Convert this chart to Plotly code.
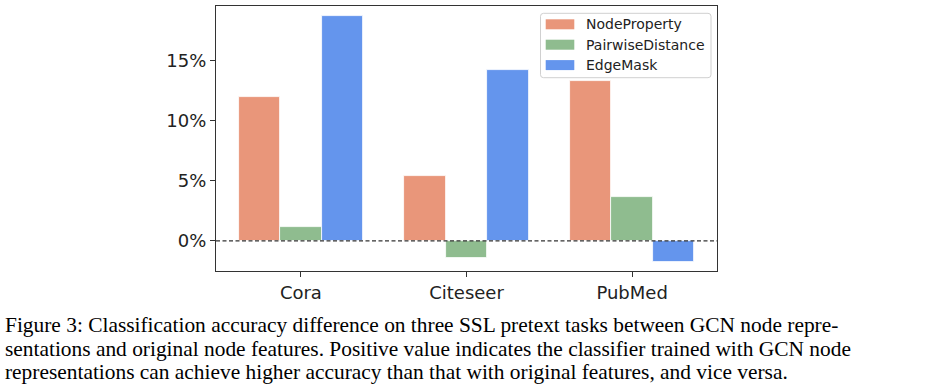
import plotly.graph_objects as go

categories = ["Cora", "Citeseer", "PubMed"]
series_names = ["NodeProperty", "PairwiseDistance", "EdgeMask"]
node_property = [12.0, 5.45, 13.3]
pairwise_distance = [1.2, -1.38, 3.7]
edge_mask = [18.7, 14.2, -1.72]
y_tick_vals = [0, 5, 10, 15]
y_tick_text = ["0%", "5%", "10%", "15%"]
caption_lines = [
    "Figure 3: Classification accuracy difference on three SSL pretext tasks between GCN node repre-",
    "sentations and original node features. Positive value indicates the classifier trained with GCN node",
    "representations can achieve higher accuracy than that with original features, and vice versa.",
]

colors = ["#E9967A", "#8FBC8F", "#6495ED"]
values = [node_property, pairwise_distance, edge_mask]

W, H = 928, 389
L, R, T, B = 216, 211, 6, 118
pw, ph = W - L - R, H - T - B

def px_x(px):
    return (px - L) / pw

def px_y(py):
    return 1 - (py - T) / ph

fig = go.Figure()
offsets = [-0.25, 0.0, 0.25]
for name, vals, col, off in zip(series_names, values, colors, offsets):
    fig.add_trace(go.Bar(
        x=[i + off for i in range(len(categories))],
        y=vals,
        width=0.25,
        name=name,
        marker=dict(color=col, line=dict(color="white", width=0.8)),
        showlegend=False,
        hoverinfo="skip",
    ))

# zero dashed line
fig.add_shape(type="line", xref="paper", yref="y", x0=0, x1=1, y0=0, y1=0,
              line=dict(color="#333333", width=1.3, dash="4px,2.5px"))

# manual legend (rounded box)
lx0, lx1, ly0, ly1 = px_x(540.5), px_x(711), px_y(77.7), px_y(13.3)
rx, ry = 3 / pw, 3 / ph
legend_path = (
    f"M {lx0 + rx},{ly0} L {lx1 - rx},{ly0} Q {lx1},{ly0} {lx1},{ly0 + ry} "
    f"L {lx1},{ly1 - ry} Q {lx1},{ly1} {lx1 - rx},{ly1} "
    f"L {lx0 + rx},{ly1} Q {lx0},{ly1} {lx0},{ly1 - ry} "
    f"L {lx0},{ly0 + ry} Q {lx0},{ly0} {lx0 + rx},{ly0} Z"
)
fig.add_shape(type="path", xref="paper", yref="paper", path=legend_path,
              line=dict(color="#d0d0d0", width=1), fillcolor="rgba(255,255,255,0.8)")
for i, (name, col) in enumerate(zip(series_names, colors)):
    cy = 24.3 + i * 20.4
    fig.add_shape(type="rect", xref="paper", yref="paper",
                  x0=px_x(545.7), x1=px_x(574.3), y0=px_y(cy + 5), y1=px_y(cy - 5),
                  line=dict(width=0), fillcolor=col)
    fig.add_annotation(xref="paper", yref="paper", x=px_x(584), y=px_y(cy),
                       text=name, showarrow=False, xanchor="left", yanchor="middle",
                       font=dict(family="DejaVu Sans", size=14, color="#222222"))

# caption
for i, line in enumerate(caption_lines):
    fig.add_annotation(xref="paper", yref="paper", x=px_x(3), y=px_y(325 + i * 23.5),
                       text=line, showarrow=False, xanchor="left", yanchor="middle",
                       font=dict(family="Liberation Serif", size=21.4, color="#000000"))

fig.update_layout(
    width=W, height=H,
    margin=dict(l=L, r=R, t=T, b=B),
    paper_bgcolor="white", plot_bgcolor="white",
    bargap=0, barmode="overlay",
    font=dict(family="DejaVu Sans", size=18, color="#222222"),
)
fig.update_xaxes(
    range=[-0.5125, 2.5125],
    tickvals=list(range(len(categories))), ticktext=categories,
    showline=True, linecolor="#333333", linewidth=1.3, mirror=True,
    ticks="outside", ticklen=5, tickcolor="#333333", showgrid=False, zeroline=False,
    tickfont=dict(size=18),
)
fig.update_yaxes(
    range=[-2.5, 19.56],
    tickvals=y_tick_vals, ticktext=y_tick_text,
    showline=True, linecolor="#333333", linewidth=1.3, mirror=True,
    ticks="outside", ticklen=5, tickcolor="#333333", showgrid=False, zeroline=False,
    tickfont=dict(size=18),
)

fig.write_html("out.html", config={"displayModeBar": False},
               post_script="document.body.style.margin='0';document.body.style.overflow='hidden';")
